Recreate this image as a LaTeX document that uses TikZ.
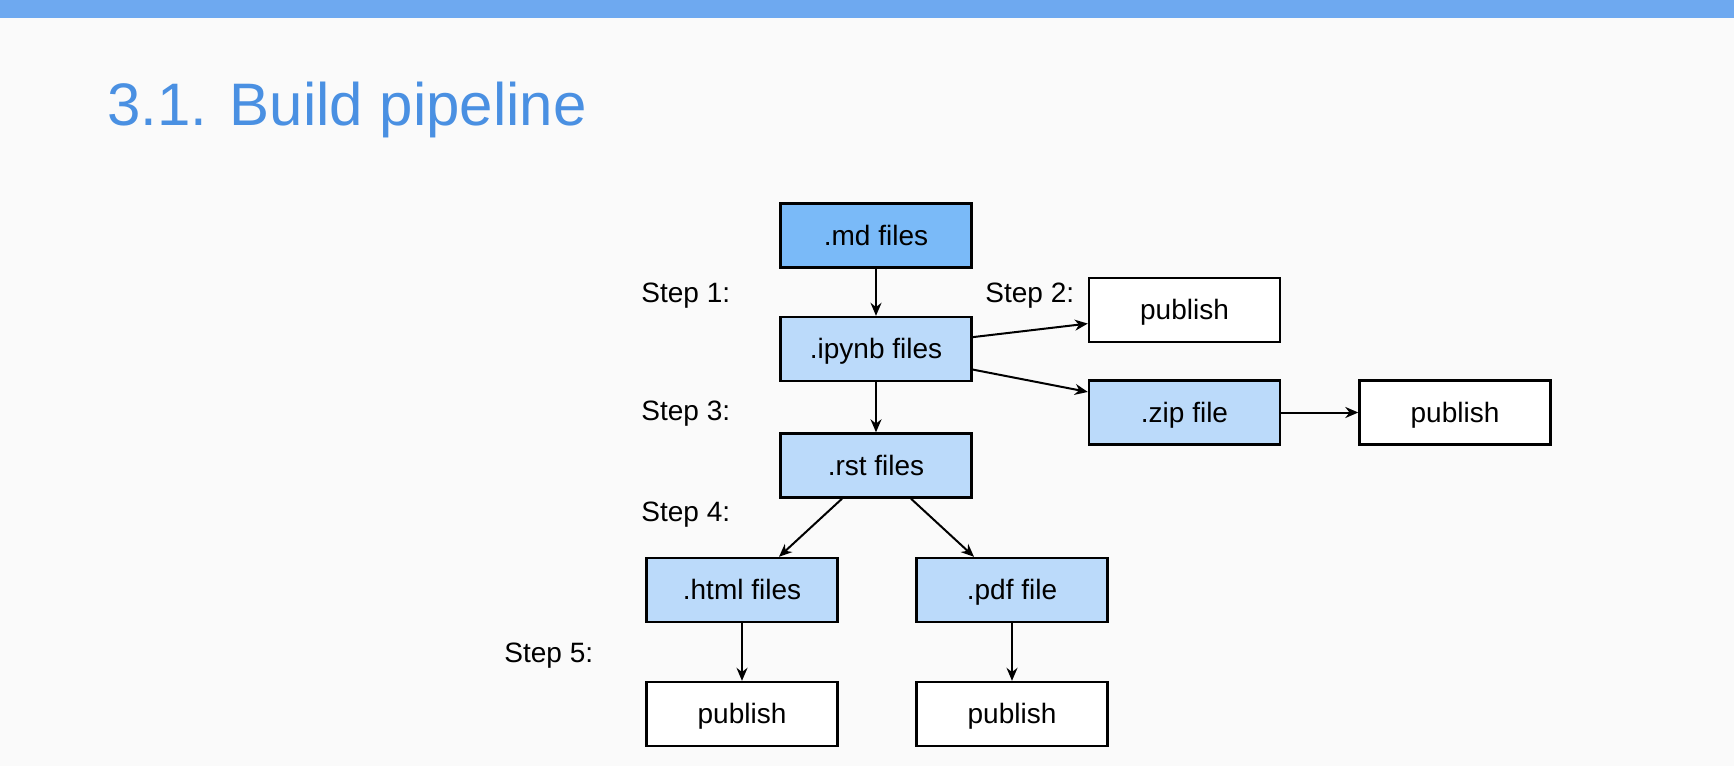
\documentclass[tikz,border=0pt]{standalone}
\usepackage{fontspec}
\setmainfont{Liberation Sans}
\usepackage{tikz}
\usetikzlibrary{arrows.meta,backgrounds}
\definecolor{barblue}{RGB}{110,169,240}
\definecolor{titleblue}{RGB}{74,144,226}
\definecolor{mdblue}{RGB}{122,186,248}
\definecolor{fileblue}{RGB}{187,218,250}
\definecolor{pagegray}{RGB}{250,250,250}
\tikzset{
  boxMd/.style={ draw, line width=1.2pt, fill=mdblue, minimum width=95.5pt, minimum height=32pt, text height=10.5pt, text depth=1pt, font=\fontsize{14}{16}\selectfont }
}
\tikzset{
  boxFile/.style={ boxMd, fill=fileblue }
}
\tikzset{
  boxPub/.style={ boxMd, fill=white }
}
\tikzset{
  stepLbl/.style={ anchor=base west, inner sep=0pt, font=\fontsize{14}{16}\selectfont }
}

\begin{document}
\begin{tikzpicture}[x=0.5pt, y=-0.5pt, >={Stealth[length=6.5pt,width=5.5pt]}]
      % page and header
      \fill[pagegray] (0, 0) rectangle (1734, 766);
      \fill[barblue] (0, 0) rectangle (1734, 18);
      \node[anchor=base west, inner sep=0pt, text=titleblue, font=\fontsize{30}{36}\selectfont] (title) at (107, 125) {3.1. Build pipeline};

      \node[boxMd] (md) at (876, 235.5) {.md files};
      \node[stepLbl] (s1) at (641, 302) {Step 1:};
      \node[boxFile] (ipynb) at (876, 349) {.ipynb files};
      \draw[->, line width=1pt] (md) -- (ipynb);

      \node[stepLbl] (s2) at (985, 302) {Step 2:};
      \node[boxPub] (pub2) at (1184.5, 310) {publish};
      \node[boxFile] (zip) at (1184.5, 412.5) {.zip file};
      \node[boxPub] (pubz) at (1455, 412.5) {publish};
      \draw[->, line width=1pt] (ipynb.7) -- (pub2.188);
      \draw[->, line width=1pt] (ipynb.-12) -- (zip.168);
      \draw[->, line width=1pt] (zip) -- (pubz);

      \node[stepLbl] (s3) at (641, 420) {Step 3:};
      \node[boxFile] (rst) at (876, 465.5) {.rst files};
      \draw[->, line width=1pt] (ipynb) -- (rst);

      \node[stepLbl] (s4) at (641, 521) {Step 4:};
      \node[boxFile] (html) at (742, 590) {.html files};
      \node[boxFile] (pdf) at (1012, 590) {.pdf file};
      \draw[->, line width=1pt] ([xshift=-17pt]rst.south) -- ([xshift=18.5pt]html.north);
      \draw[->, line width=1pt] ([xshift=17.5pt]rst.south) -- ([xshift=-19pt]pdf.north);

      \node[stepLbl] (s5) at (504, 662) {Step 5:};
      \node[boxPub] (pubh) at (742, 714) {publish};
      \node[boxPub] (pubp) at (1012, 714) {publish};
      \draw[->, line width=1pt] (html) -- (pubh);
      \draw[->, line width=1pt] (pdf) -- (pubp);

\end{tikzpicture}
\end{document}
